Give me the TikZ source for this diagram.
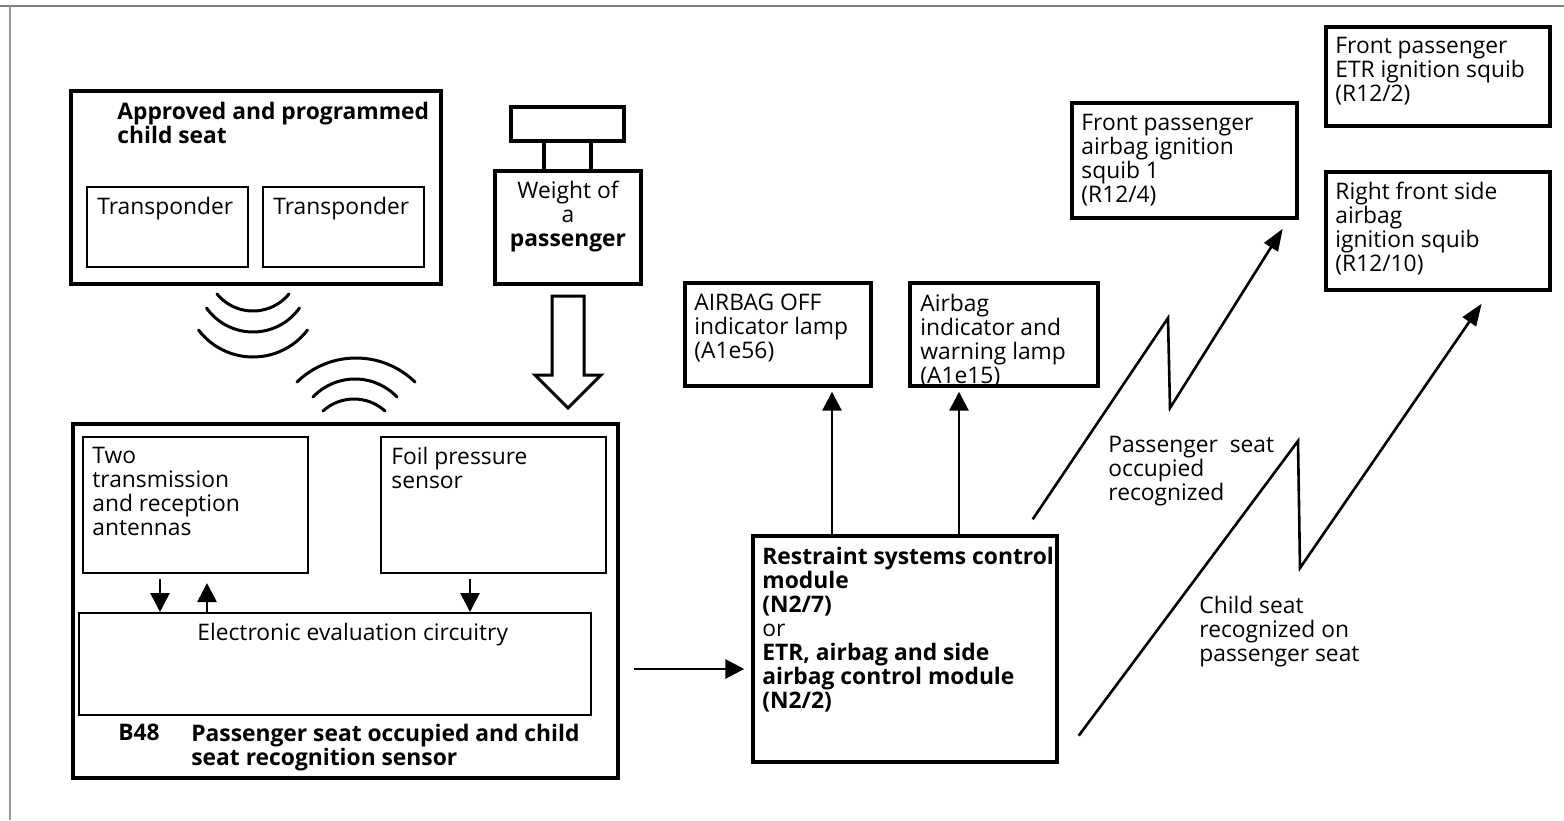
\documentclass[tikz,border=0pt]{standalone}
\usepackage{fontspec}
\setmainfont{Open Sans}
\usetikzlibrary{arrows.meta,fit}
\begin{document}
\begin{tikzpicture}[x=0.5pt,y=-0.5pt,
  thickbox/.style={draw,line width=1.7pt,inner sep=0pt},
  thinbox/.style={draw,line width=1pt,inner sep=0pt},
  lbl/.style={anchor=north west,inner sep=0pt,align=left,font=\fontsize{11.4}{12}\selectfont},
  blbl/.style={lbl,font=\fontsize{11.4}{12}\selectfont\bfseries},
  arr/.style={line width=1.4pt,-{Triangle[length=9.5pt,width=9.5pt]}},
  zig/.style={line width=1.3pt,-{Triangle[length=11pt,width=8pt]}},
  wave/.style={line width=1.5pt,line cap=round},
]
\useasboundingbox (0,0) rectangle (1564,820);
% frame
\draw[gray,line width=1.2pt] (0,6) -- (1564,6);
\draw[gray!80,line width=0.8pt] (10,6) -- (10,820);

% x reference coordinates
\coordinate (c160) at (160,0);
\coordinate (c207) at (207,0);
\coordinate (c470) at (470,0);
\coordinate (c832) at (832,0);
\coordinate (c959) at (959,0);
\coordinate (r669) at (0,669);

% child seat
\node[thickbox, fit={(71,91)(441,284)}] (child) {};
\node[blbl] at (117,102) {Approved and programmed\\child seat};
\node[thinbox, fit={(87,187)(248,267)}] (tr1) {};
\node[thinbox, fit={(263,187)(424,267)}] (tr2) {};
\node[lbl] at (97,197) {Transponder};
\node[lbl] at (273,197) {Transponder};

% weight
\node[thickbox, fit={(511,107)(624,141)}] (wtop) {};
\node[thickbox, fit={(495,171)(641,284)}] (weight) {};
\draw[line width=1.7pt] ([xshift=-11.75pt]wtop.south) -- ([xshift=-11.75pt]wtop.south |- weight.north);
\draw[line width=1.7pt] ([xshift=11.75pt]wtop.south) -- ([xshift=11.75pt]wtop.south |- weight.north);
\node[lbl, anchor=north, align=center] at (568,181) {Weight of\\a\\\textbf{passenger}};

% hollow arrow
\draw[line width=1.5pt,line join=miter] (552,296) -- (584,296) -- (584,375) -- (601,375) -- (568,408) -- (535,375) -- (552,375) -- cycle;

% waves
\draw[wave] (253,264.4) ++(140.6:46.6) arc[start angle=140.6,end angle=39.4,radius=46.6];
\draw[wave] (253,275) ++(144.7:57) arc[start angle=144.7,end angle=35.3,radius=57];
\draw[wave] (253,288.5) ++(142.7:68.5) arc[start angle=142.7,end angle=37.3,radius=68.5];
\draw[wave] (356,442.5) ++(225.7:84.5) arc[start angle=225.7,end angle=314.3,radius=84.5];
\draw[wave] (355,437) ++(223.6:58) arc[start angle=223.6,end angle=316.4,radius=58];
\draw[wave] (354,445) ++(227.6:46) arc[start angle=227.6,end angle=312.4,radius=46];

% B48
\node[thickbox, fit={(73,424)(618,778)}] (b48) {};
\node[thinbox, fit={(83,437)(308,573)}] (ant) {};
\node[thinbox, fit={(381,437)(606,573)}] (foil) {};
\node[thinbox, fit={(79,613)(591,715)}] (eec) {};
\node[lbl] at (92,447) {Two\\transmission\\and reception\\antennas};
\node[lbl] at (391,447) {Foil pressure\\sensor};
\node[lbl] at (197,623) {Electronic evaluation circuitry};
\node[blbl] at (118,724) {B48};
\node[blbl] at (191,724) {Passenger seat occupied and child\\seat recognition sensor};
\draw[arr, shorten <=2.5pt] (ant.south -| c160) -- (eec.north -| c160);
\draw[arr, shorten >=4.5pt] (eec.north -| c207) -- (ant.south -| c207);
\draw[arr, shorten <=2.5pt] (foil.south -| c470) -- (eec.north -| c470);

% control module
\node[thickbox, fit={(753,536)(1057,762)}] (ctrl) {};
\node[lbl] at (762,547) {\textbf{Restraint systems control}\\\textbf{module}\\\textbf{(N2/7)}\\or\\\textbf{ETR, airbag and side}\\\textbf{airbag control module}\\\textbf{(N2/2)}};
\draw[arr, shorten <=7pt, shorten >=3.5pt] (b48.east |- r669) -- (ctrl.west |- r669);

% lamps
\node[thickbox, fit={(685,283)(871,386)}] (lamp1) {};
\node[thickbox, fit={(910,283)(1098,386)}] (lamp2) {};
\node[lbl] at (694,294) {AIRBAG OFF\\indicator lamp\\(A1e56)};
\node[lbl] at (920,294) {Airbag\\indicator and\\warning lamp\\(A1e15)};
\draw[arr, shorten >=2pt] (ctrl.north -| c832) -- (lamp1.south -| c832);
\draw[arr, shorten >=2pt] (ctrl.north -| c959) -- (lamp2.south -| c959);

% squibs
\node[thickbox, fit={(1072,103)(1297,218)}] (sq1) {};
\node[thickbox, fit={(1326,27)(1550,126)}] (sq2) {};
\node[thickbox, fit={(1326,172)(1550,290)}] (sq3) {};
\node[lbl] at (1081,114) {Front passenger\\airbag ignition\\squib 1\\(R12/4)};
\node[lbl] at (1335,37) {Front passenger\\ETR ignition squib\\(R12/2)};
\node[lbl] at (1335,182) {Right front side\\airbag\\ignition squib\\(R12/10)};

% zigzag connectors
\coordinate (z1s) at ([xshift=-13pt,yshift=7.5pt]ctrl.north east);
\coordinate (z1p) at (1168,318);
\coordinate (z1b) at (1170,408);
\coordinate (z1e) at ([xshift=-8pt,yshift=-4.5pt]sq1.south east);
\draw[zig,line join=miter] (z1s) -- (z1p) -- (z1b) -- (z1e);
\coordinate (z2s) at ([xshift=10pt,yshift=14pt]ctrl.south east);
\coordinate (z2p) at (1298,441);
\coordinate (z2b) at (1300,568);
\coordinate (z2e) at ([xshift=-35pt,yshift=-6pt]sq3.south east);
\draw[zig,line join=miter] (z2s) -- (z2p) -- (z2b) -- (z2e);
\node[lbl] at (1108,436) {Passenger\ \ seat\\occupied\\recognized};
\node[lbl] at (1199,596) {Child seat\\recognized on\\passenger seat};
\end{tikzpicture}
\end{document}
